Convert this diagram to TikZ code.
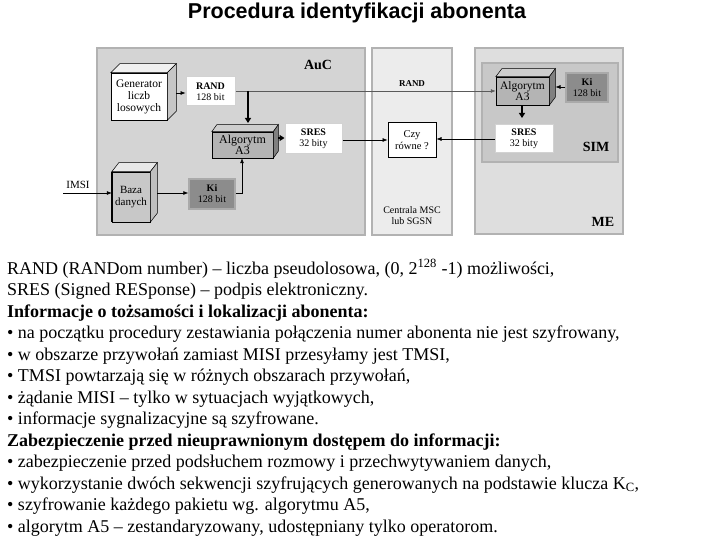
\documentclass[tikz,border=0pt]{standalone}
\usepackage{fontspec}
\setmainfont{Liberation Serif}
\newfontfamily\arialfont{Liberation Sans}
\usetikzlibrary{calc,arrows.meta}
\definecolor{aucfill}{RGB}{212,212,212}
\definecolor{mscfill}{RGB}{236,236,236}
\definecolor{mefill}{RGB}{222,222,222}
\definecolor{simfill}{RGB}{200,200,200}
\definecolor{panelline}{RGB}{178,178,178}
\definecolor{algfront}{RGB}{180,180,180}
\definecolor{algtop}{RGB}{206,206,206}
\definecolor{algside}{RGB}{128,128,128}
\definecolor{kifill}{RGB}{140,140,140}
\definecolor{kiline}{RGB}{170,170,170}
\definecolor{bazafront}{RGB}{200,200,200}
\definecolor{linegray}{RGB}{90,90,90}
\newcommand{\cubefaces}[5]{%
  \filldraw[fill=#4, draw=black, line width=0.5pt]
    (#1.north west) -- ++(#2,#3) -- ($(#1.north east)+(#2,#3)$) -- (#1.north east) -- cycle;
  \filldraw[fill=#5, draw=black, line width=0.5pt]
    (#1.north east) -- ++(#2,#3) -- ($(#1.south east)+(#2,#3)$) -- (#1.south east) -- cycle;
}
\begin{document}
\begin{tikzpicture}[x=1pt,y=-1pt,
  panel/.style={draw=panelline, line width=1.6pt, inner sep=0pt},
  cubebox/.style={draw=black, line width=0.5pt, align=center, inner sep=0pt, font=\fontsize{11.5}{12}\selectfont},
  flatbox/.style={draw=gray!35, line width=1pt, fill=white, align=center, inner sep=0pt, font=\fontsize{10}{11}\selectfont},
  kibox/.style={draw=kiline, line width=1.5pt, fill=kifill, align=center, inner sep=0pt, font=\fontsize{10}{11}\selectfont},
  lbl/.style={inner sep=0pt, font=\fontsize{10}{11}\selectfont, align=center},
  big/.style={inner sep=0pt, font=\fontsize{14}{15}\selectfont\bfseries},
  thin/.style={draw=black, line width=0.6pt, -{Latex[length=5pt,width=4pt]}},
  graythin/.style={draw=linegray, line width=0.7pt, -{Latex[length=5pt,width=4pt]}},
  thick/.style={draw=black, line width=2pt, -{Triangle[length=5pt,width=6pt]}},
  txt/.style={anchor=base west, inner sep=0pt, font=\fontsize{18}{20}\selectfont}
]
\useasboundingbox (0,0) rectangle (720,540);
\fill[white] (0,0) rectangle (720,540);

% title
\node[inner sep=0pt, font=\arialfont\fontsize{21.5}{24}\selectfont\bfseries] (title) at (357,13) {Procedura identyfikacji abonenta};

% panels
\node[panel, fill=aucfill, minimum width=268, minimum height=187] (auc) at (231,141.5) {};
\node[panel, fill=mscfill, minimum width=80, minimum height=187] (msc) at (412,141.5) {};
\node[panel, fill=mefill, minimum width=148, minimum height=186] (me) at (549,141) {};
\node[panel, fill=simfill, minimum width=136, minimum height=99] (sim) at (550,112.5) {};

\node[big] (auclbl) at (318,65) {AuC};
\node[big] (simlbl) at (596,147) {SIM};
\node[big] (melbl) at (603,222) {ME};
\node[lbl] (msclbl) at (412,216) {Centrala MSC\\lub SGSN};

% AuC boxes
\node[cubebox, fill=white, minimum width=56, minimum height=47] (gen) at (139,96.5) {Generator\\liczb\\losowych};
\cubefaces{gen}{9}{-9}{gray!12}{gray!45}
\node[flatbox, minimum width=49, minimum height=29] (rand) at (210.5,91.5) {\textbf{RAND}\\128 bit};
\node[cubebox, fill=algfront, minimum width=61, minimum height=26, font=\fontsize{12}{11.5}\selectfont] (alg1) at (242.5,145) {Algorytm\\A3};
\cubefaces{alg1}{5}{-7}{algtop}{algside}
\node[flatbox, minimum width=57, minimum height=30] (sres1) at (313.5,139) {\textbf{SRES}\\32 bity};
\node[cubebox, fill=bazafront, minimum width=38, minimum height=50, font=\fontsize{11}{12}\selectfont] (baza) at (131,197) {Baza\\danych};
\cubefaces{baza}{7}{-9}{gray!18}{gray!50}
\draw[line width=2pt] (baza.north west) -- (baza.south west);
\node[kibox, minimum width=46, minimum height=30] (ki1) at (212,194) {\textbf{Ki}\\128 bit};

% MSC
\node[draw=black, line width=1pt, fill=white, minimum width=48, minimum height=35, align=center, inner sep=0pt, font=\fontsize{10.5}{12}\selectfont] (czy) at (412,140.5) {Czy\\równe ?};

% ME / SIM
\node[cubebox, fill=algfront, minimum width=53, minimum height=28, font=\fontsize{11.5}{11.5}\selectfont] (alg2) at (522.5,91) {Algorytm\\A3};
\cubefaces{alg2}{6}{-8}{algtop}{algside}
\node[kibox, minimum width=42, minimum height=29] (ki2) at (587,87.5) {\textbf{Ki}\\128 bit};
\node[flatbox, minimum width=58, minimum height=28] (sres2) at (524,139) {\textbf{SRES}\\32 bity};

% connectors
\coordinate (imsiin) at (63,193);
\node[lbl, font=\fontsize{11}{12}\selectfont] (imsilbl) at (78,185) {IMSI};
\draw[thin] (imsiin) -- (imsiin -| baza.west);
\draw[thin] ($(baza.east)+(7,-4)$) -- (ki1.west |- 0,193);
\coordinate (kiturn) at (242,193);
\draw[thin] (ki1.east |- kiturn) -- (kiturn) -- (kiturn |- alg1.south);
\draw[thin] ($(gen.east)+(9,-3.5)$) -- (rand.west |- 0,93);
\coordinate (randlblpos) at (412,84);
\node[inner sep=0pt, font=\fontsize{9}{10}\selectfont\bfseries] (randlbl) at (randlblpos) {RAND};
\draw[graythin] (rand.east |- 0,91) -- (alg2.west |- 0,91);
\coordinate (randdrop) at (248,91);
\draw[thick] (randdrop) -- (248,123);
\draw[thick] (278,138) -- (sres1.west |- 0,138);
\draw[thin] (sres1.east |- 0,140) -- (czy.west |- 0,140);
\draw[thin] (sres2.west |- 0,139) -- (czy.east |- 0,139);
\draw[thin] (ki2.west |- 0,87) -- (555.5,87);
\draw[thick, line width=1.8pt] (alg2.south -| 522,0) -- (522,118);

% text
\node[txt] (t1) at (7,274) {RAND (RANDom number) – liczba pseudolosowa, (0, 2\textsuperscript{128} -1) możliwości,};
\node[txt] (t2) at (7,295.5) {SRES (Signed RESponse) – podpis elektroniczny.};
\node[txt] (t3) at (7,317) {\textbf{Informacje o tożsamości i lokalizacji abonenta:}};
\node[txt] (t4) at (7,338.5) {• na początku procedury zestawiania połączenia numer abonenta nie jest szyfrowany,};
\node[txt] (t5) at (7,360) {• w obszarze przywołań zamiast MISI przesyłamy jest TMSI,};
\node[txt] (t6) at (7,381.5) {• TMSI powtarzają się w różnych obszarach przywołań,};
\node[txt] (t7) at (7,403) {• żądanie MISI – tylko w sytuacjach wyjątkowych,};
\node[txt] (t8) at (7,424.5) {• informacje sygnalizacyjne są szyfrowane.};
\node[txt] (t9) at (7,446) {\textbf{Zabezpieczenie przed nieuprawnionym dostępem do informacji:}};
\node[txt] (t10) at (7,467.5) {• zabezpieczenie przed podsłuchem rozmowy i przechwytywaniem danych,};
\node[txt] (t11) at (7,489) {• wykorzystanie dwóch sekwencji szyfrujących generowanych na podstawie klucza K\textsubscript{C},};
\node[txt] (t12) at (7,510.5) {• szyfrowanie każdego pakietu wg. algorytmu A5,};
\node[txt] (t13) at (7,532) {• algorytm A5 – zestandaryzowany, udostępniany tylko operatorom.};
\end{tikzpicture}
\end{document}
